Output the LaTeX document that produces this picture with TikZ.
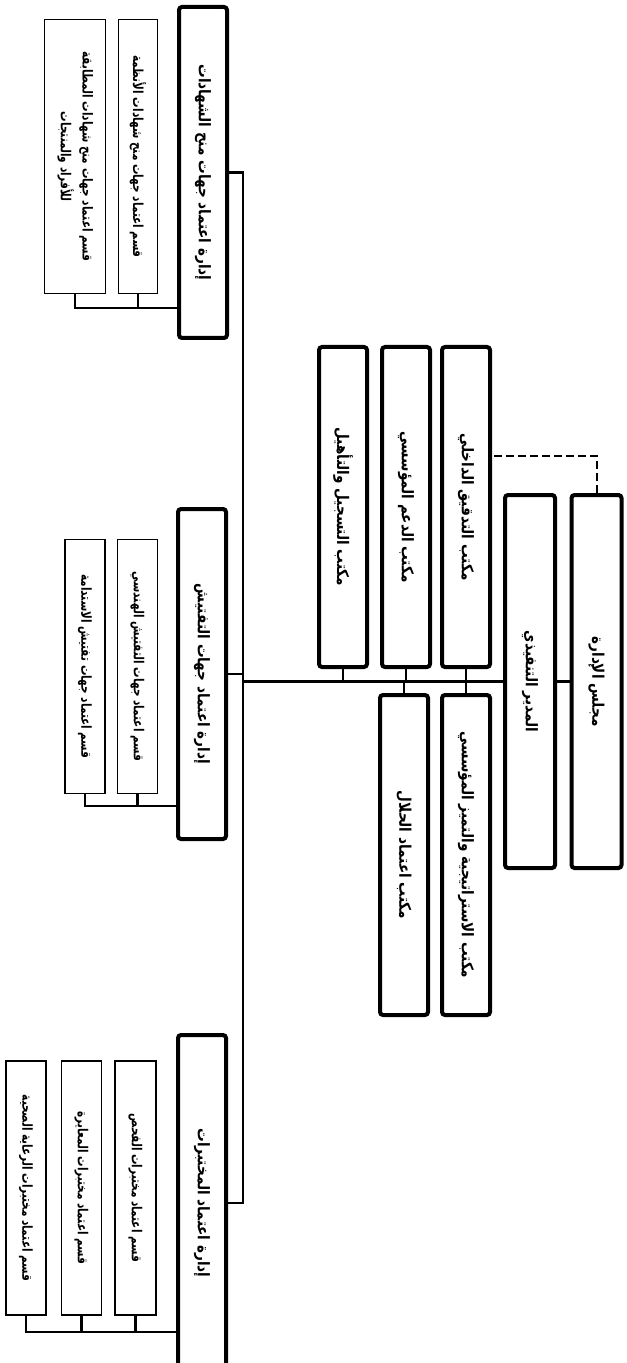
\documentclass[tikz,border=0pt]{standalone}
\usepackage{fontspec}
\usepackage{graphicx}
\newfontfamily\arabicfont[Script=Arabic,FakeStretch=0.85]{DejaVu Sans}
\newfontfamily\arabicsect[Script=Arabic,FakeStretch=0.76]{DejaVu Sans}
\TeXXeTstate=1
\usetikzlibrary{positioning,calc}

% rotated Arabic labels
\newcommand{\ar}[1]{\rotatebox{-90}{\arabicfont\bfseries\beginR #1\endR}}
\newcommand{\arsect}[1]{\rotatebox{-90}{\arabicsect\bfseries\beginR #1\endR}}

\begin{document}
\begin{tikzpicture}[
    x=0.5pt, y=-0.5pt,
    font=\fontsize{8}{9.6}\selectfont,
    top/.style={rectangle, draw, line width=2pt, rounded corners=1.5pt, inner sep=0pt, minimum width=25pt, minimum height=186.5pt},
    office/.style={top, minimum width=24pt, minimum height=160pt},
    dept/.style={top, minimum width=24pt},
    sect/.style={rectangle, draw, line width=0.75pt, inner sep=0pt, minimum width=20pt, minimum height=127pt, font=\fontsize{6.9}{8}\selectfont},
    link/.style={draw, line width=1.2pt},
    dashlink/.style={draw, line width=1pt, dash pattern=on 4pt off 2pt}
]
    \useasboundingbox (0,0) rectangle (626,1363);

    % --- Top management ---
    \node[top] (board) at (596.5,681.5) {\ar{مجلس الإدارة}};
    \node[top] (exec) at (530,681.5) {\ar{المدير التنفيذي}};

    % --- Staff offices ---
    \node[office] (audit) at (466,507) {\ar{مكتب التدقيق الداخلي}};
    \node[office] (support) at (406,507) {\ar{مكتب الدعم المؤسسي}};
    \node[office] (register) at (343,507) {\ar{مكتب التسجيل والتأهيل}};
    \node[office] (strategy) at (466,855) {\ar{مكتب الاستراتيجية والتميز المؤسسي}};
    \node[office] (halal) at (404,855) {\ar{مكتب اعتماد الحلال}};

    % --- Departments ---
    \node[dept, minimum height=165.5pt] (certs) at (203,172.5) {\ar{إدارة اعتماد جهات منح الشهادات}};
    \node[dept, minimum height=165pt] (inspect) at (202,674) {\ar{إدارة اعتماد جهات التفتيش}};
    \node[dept, minimum height=168pt] (labs) at (202,1203) {\ar{إدارة اعتماد المختبرات}};

    % --- Sections ---
    \node[sect, minimum width=19.5pt, minimum height=137pt] (certsA) at (138,156.5) {\arsect{قسم اعتماد جهات منح شهادات الأنظمة}};
    \node[sect, minimum width=30.5pt, minimum height=137pt] (certsB) at (75,156.5)
        {\rotatebox{-90}{\arabicsect\bfseries\begin{tabular}{@{}c@{}}\beginR قسم اعتماد جهات منح شهادات المطابقة\endR\\[2pt]\beginR للأفراد والمنتجات\endR\end{tabular}}};
    \node[sect] (inspectA) at (137.5,666.5) {\arsect{قسم اعتماد جهات التفتيش الهندسي}};
    \node[sect] (inspectB) at (85,666.5) {\arsect{قسم اعتماد جهات تفتيش الاستدامة}};
    \node[sect, minimum width=20.5pt] (labsA) at (135.5,1188) {\arsect{قسم اعتماد مختبرات الفحص}};
    \node[sect] (labsB) at (81.5,1188) {\arsect{قسم اعتماد مختبرات المعايرة}};
    \node[sect] (labsC) at (26,1188) {\arsect{قسم اعتماد مختبرات الرعاية الصحية}};

    % --- Connectors ---
    \draw[link] (board.west) -- (exec.east);
    \coordinate (trunk) at ($(certs.east)+(14,0)$);
    \draw[link] (exec.west) -- (exec.west -| trunk);
    \draw[link] (certs.east) -- (trunk) |- (labs.east);
    \draw[link] (inspect.east) -- (inspect.east -| trunk);
    \foreach \o in {audit,support,register}
        \draw[link] (\o.south) -- (\o.south |- exec.west);
    \foreach \o in {strategy,halal}
        \draw[link] (\o.north) -- (\o.north |- exec.west);
    \draw[dashlink] (board.north) |- ($(audit.east)+(0,-51)$);

    % section buses
    \coordinate (certsbus) at ($(certsA.south)+(0,14)$);
    \coordinate (inspectbus) at ($(inspectA.south)+(0,12)$);
    \coordinate (labsbus) at ($(labsA.south)+(0,16)$);
    \foreach \s in {certsA,certsB}
        \draw[link] (\s.south) |- (certsbus -| certs.west);
    \foreach \s in {inspectA,inspectB}
        \draw[link] (\s.south) |- (inspectbus -| inspect.west);
    \foreach \s in {labsA,labsB,labsC}
        \draw[link] (\s.south) |- (labsbus -| labs.west);

\end{tikzpicture}
\end{document}
